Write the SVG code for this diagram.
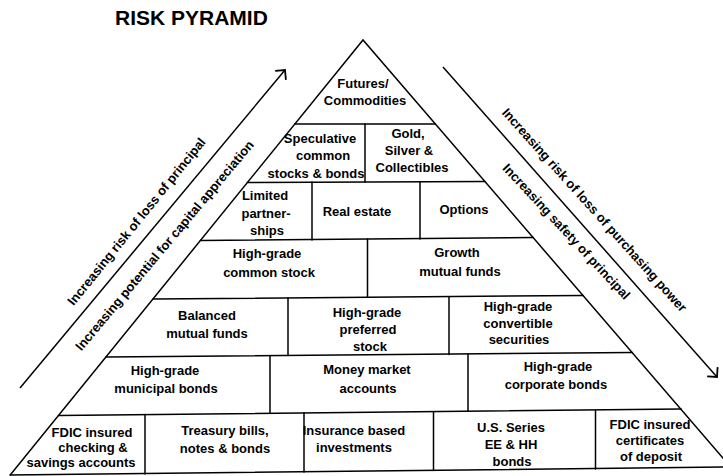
<svg xmlns="http://www.w3.org/2000/svg" width="723" height="476" viewBox="0 0 723 476">
<defs>
<style>
.ln{stroke:#000;stroke-width:1.5;fill:none;stroke-linecap:round}
.ar{stroke:#000;stroke-width:1.5;fill:none}
text{font-family:"Liberation Sans",Arial,sans-serif;font-weight:bold;font-size:13px;fill:#000}
.c{text-anchor:middle}
.title{font-size:21px}
</style>
<marker id="head" markerUnits="userSpaceOnUse" markerWidth="20" markerHeight="20" refX="10" refY="10" orient="auto" viewBox="0 0 20 20">
<path d="M3,3 L10,10 L3,17" fill="none" stroke="#000" stroke-width="1.8"/>
</marker>
</defs>
<rect width="723" height="476" fill="#fff"/>
<text id="title" class="title" x="115" y="25">RISK PYRAMID</text>

<g id="pyramid" class="ln">
<path d="M10.2,475 L363,40 L735,472"/>
<line x1="10.2" y1="475" x2="723" y2="467"/>
<line x1="294.9" y1="124" x2="435.4" y2="124"/>
<line x1="247.4" y1="182.5" x2="485" y2="181.5"/>
<line x1="200.4" y1="240.5" x2="533.2" y2="237.5"/>
<line x1="153" y1="299" x2="583.2" y2="295.5"/>
<line x1="105.9" y1="357" x2="632.4" y2="352.5"/>
<line x1="58.5" y1="415.5" x2="681.1" y2="409"/>
<line x1="365" y1="124" x2="365" y2="182"/>
<line x1="312" y1="182" x2="312" y2="240"/>
<line x1="420" y1="182" x2="420" y2="239"/>
<line x1="367.5" y1="239" x2="367.5" y2="297"/>
<line x1="288" y1="298" x2="288" y2="355.5"/>
<line x1="449" y1="297" x2="449" y2="354.5"/>
<line x1="270" y1="356" x2="270" y2="413"/>
<line x1="468" y1="354" x2="468" y2="411"/>
<line x1="145" y1="414.5" x2="145" y2="474"/>
<line x1="304" y1="413" x2="304" y2="472"/>
<line x1="433.5" y1="412" x2="433.5" y2="470.5"/>
<line x1="595.5" y1="410.5" x2="595.5" y2="469"/>
</g>

<g id="connectors">
<line id="arrow-left" class="ar" x1="20" y1="388" x2="285" y2="70" marker-end="url(#head)"/>
<line id="arrow-right" class="ar" x1="443" y1="67" x2="717" y2="377" marker-end="url(#head)"/>
<text id="lbl-risk-principal" class="c" transform="translate(136.5,221.5) rotate(-51)" x="0" y="4.5">Increasing risk of loss of principal</text>
<text id="lbl-capital" class="c" transform="translate(164.5,245.5) rotate(-50)" x="0" y="4.5">Increasing potential for capital appreciation</text>
<text id="lbl-purchasing" class="c" transform="translate(594.5,210) rotate(48)" x="0" y="4.5">Increasing risk of loss of purchasing power</text>
<text id="lbl-safety" class="c" transform="translate(566.5,231.5) rotate(47)" x="0" y="4.5">Increasing safety of principal</text>
</g>

<g id="futures"><text class="c"><tspan x="363" y="87.5">Futures/</tspan><tspan x="365" y="104.5">Commodities</tspan></text></g>
<g id="speculative"><text class="c"><tspan x="320" y="142.5">Speculative</tspan><tspan x="323" y="160">common</tspan><tspan x="316" y="177.5">stocks &amp; bonds</tspan></text></g>
<g id="gold"><text class="c"><tspan x="408" y="137.5">Gold,</tspan><tspan x="409" y="154.5">Silver &amp;</tspan><tspan x="412" y="171.5">Collectibles</tspan></text></g>
<g id="limited"><text class="c"><tspan x="265" y="199.5">Limited</tspan><tspan x="266" y="217.5">partner-</tspan><tspan x="267" y="234.5">ships</tspan></text></g>
<g id="real-estate"><text class="c" x="357" y="215.5">Real estate</text></g>
<g id="options"><text class="c" x="464" y="213.5">Options</text></g>
<g id="hg-common"><text class="c"><tspan x="267" y="258">High-grade</tspan><tspan x="269" y="277">common stock</tspan></text></g>
<g id="growth"><text class="c"><tspan x="457" y="256.5">Growth</tspan><tspan x="460" y="275.5">mutual funds</tspan></text></g>
<g id="balanced"><text class="c"><tspan x="207" y="320">Balanced</tspan><tspan x="207" y="337.5">mutual funds</tspan></text></g>
<g id="hg-preferred"><text class="c"><tspan x="367" y="316.5">High-grade</tspan><tspan x="368" y="333.5">preferred</tspan><tspan x="370" y="350.5">stock</tspan></text></g>
<g id="hg-convertible"><text class="c"><tspan x="518" y="310.5">High-grade</tspan><tspan x="518" y="327.5">convertible</tspan><tspan x="519" y="344">securities</tspan></text></g>
<g id="hg-municipal"><text class="c"><tspan x="165" y="375">High-grade</tspan><tspan x="166" y="393">municipal bonds</tspan></text></g>
<g id="money-market"><text class="c"><tspan x="367" y="374">Money market</tspan><tspan x="368" y="393">accounts</tspan></text></g>
<g id="hg-corporate"><text class="c"><tspan x="558" y="371">High-grade</tspan><tspan x="556" y="389">corporate bonds</tspan></text></g>
<g id="fdic-checking"><text class="c"><tspan x="92" y="436.5">FDIC insured</tspan><tspan x="93" y="451.5">checking &amp;</tspan><tspan x="81" y="466.5">savings accounts</tspan></text></g>
<g id="treasury"><text class="c"><tspan x="225" y="434.5">Treasury bills,</tspan><tspan x="225" y="452.5">notes &amp; bonds</tspan></text></g>
<g id="insurance"><text class="c"><tspan x="354" y="434.5">Insurance based</tspan><tspan x="354" y="451.5">investments</tspan></text></g>
<g id="us-series"><text class="c"><tspan x="511" y="431.5">U.S. Series</tspan><tspan x="511" y="448.5">EE &amp; HH</tspan><tspan x="512" y="465.5">bonds</tspan></text></g>
<g id="fdic-cd"><text class="c"><tspan x="650" y="428.5">FDIC insured</tspan><tspan x="650" y="444.5">certificates</tspan><tspan x="651" y="460.5">of deposit</tspan></text></g>
</svg>
